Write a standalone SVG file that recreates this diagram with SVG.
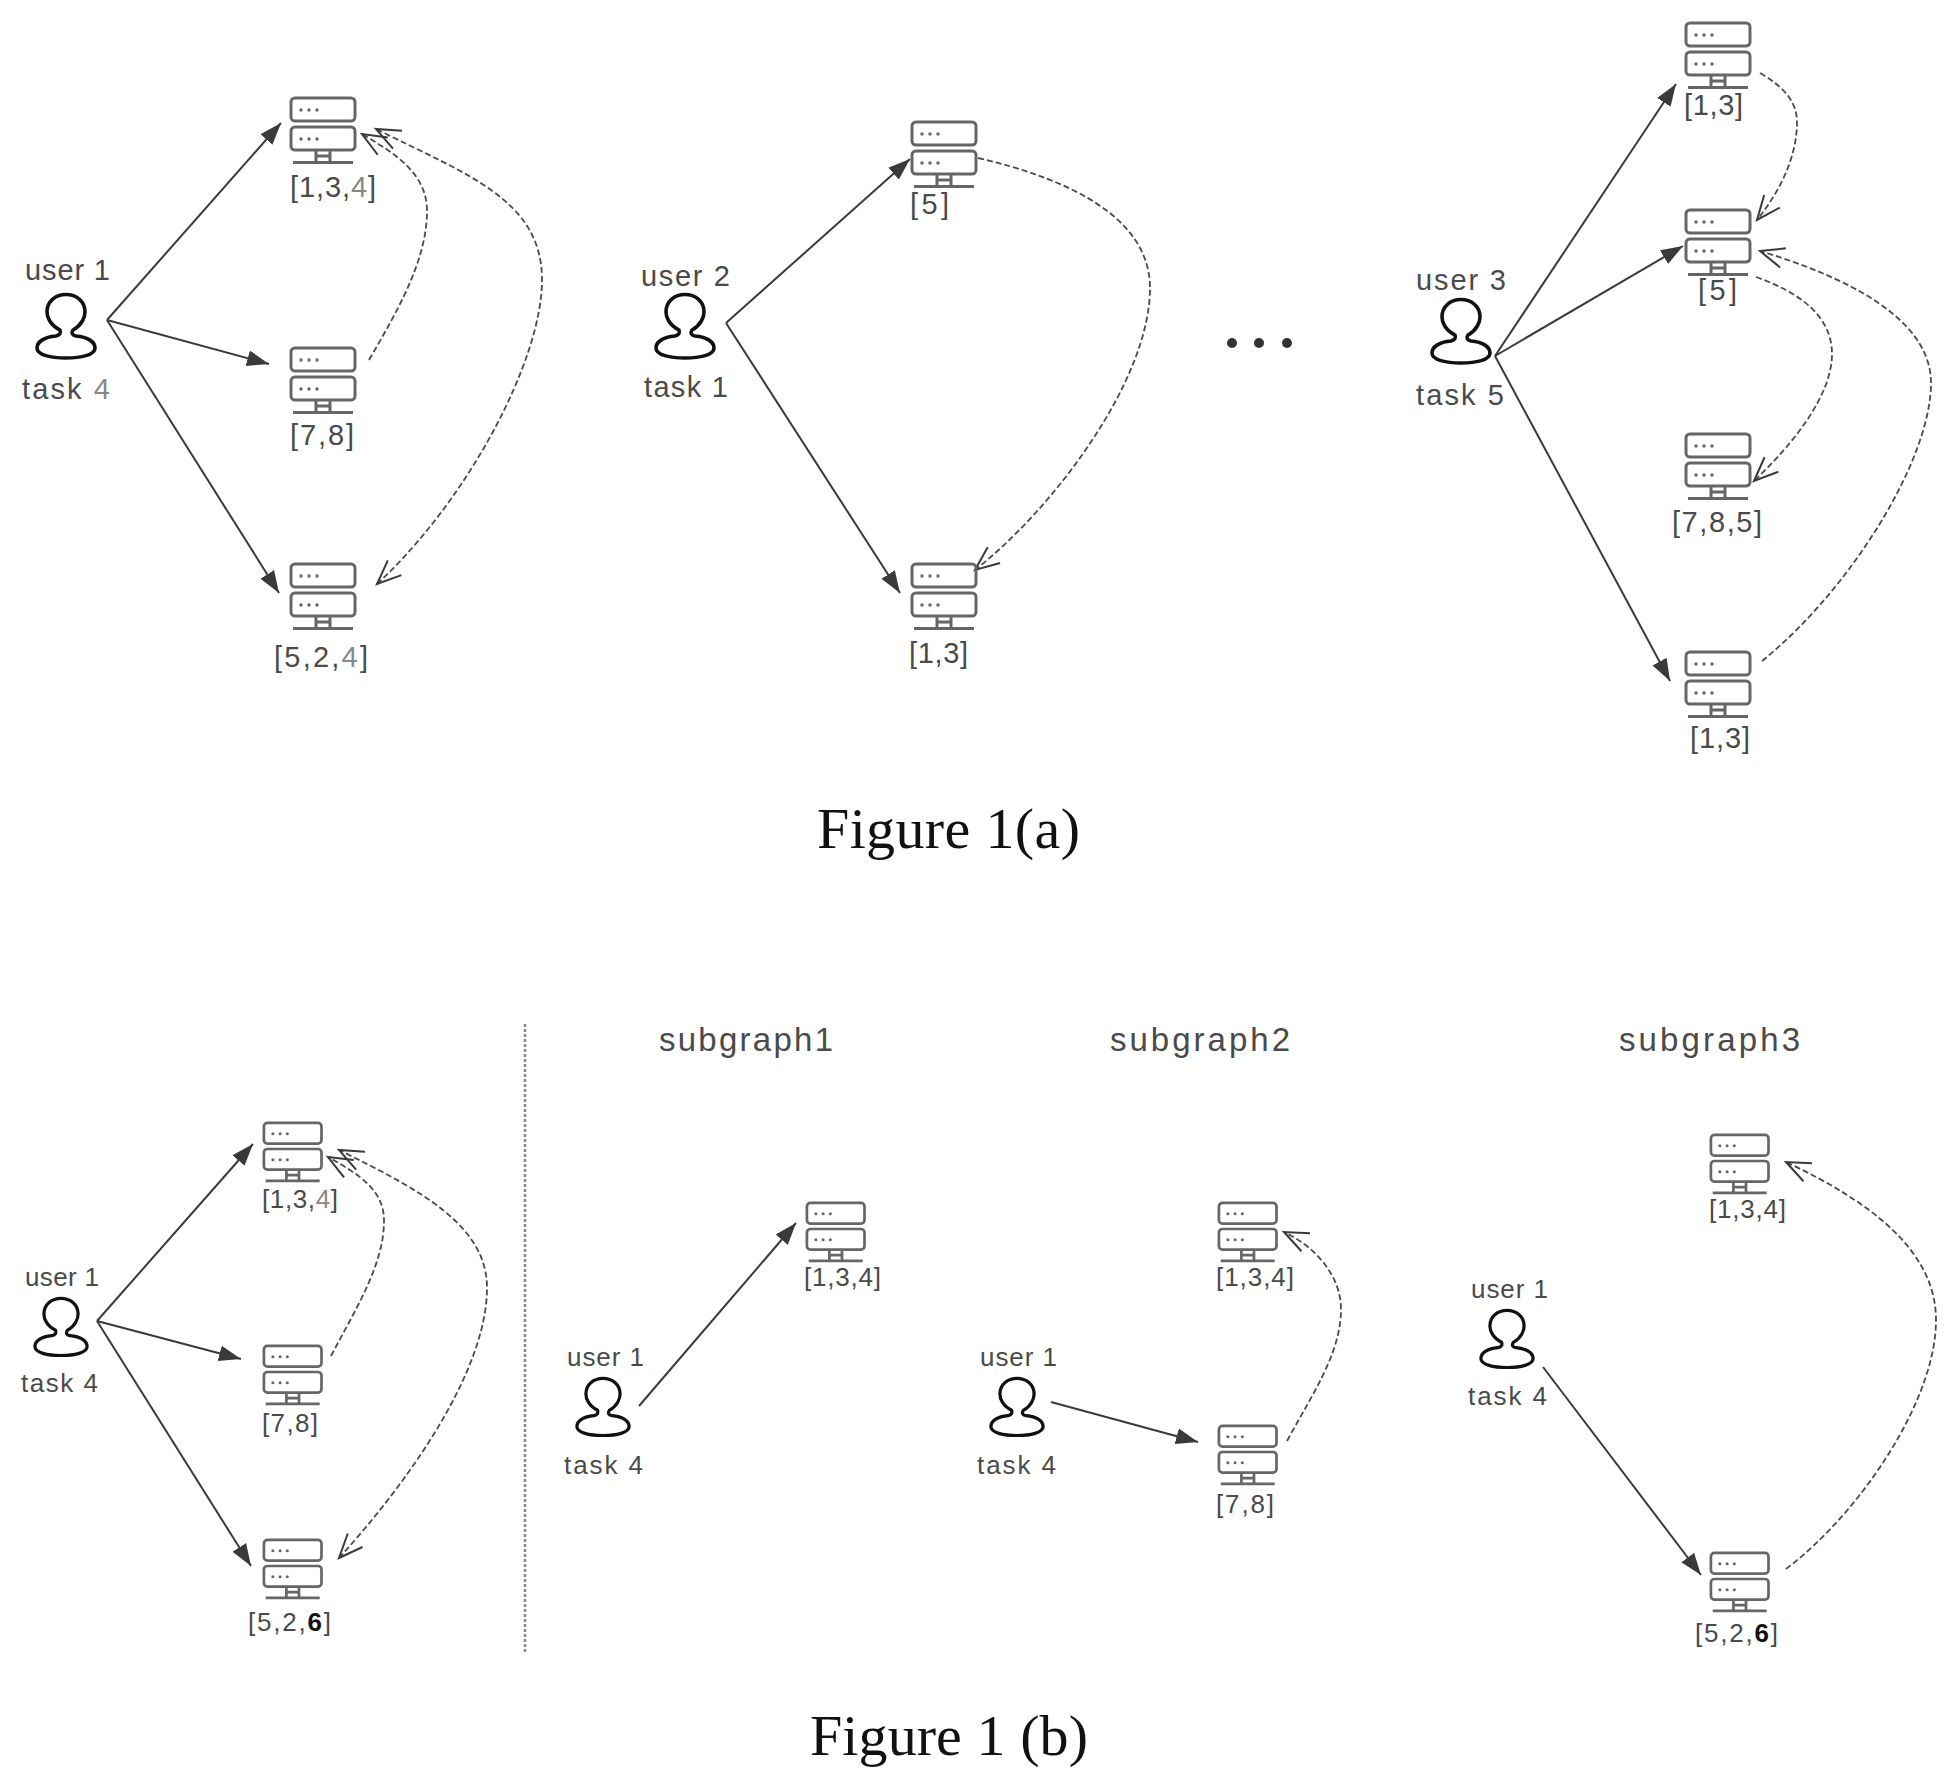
<svg xmlns="http://www.w3.org/2000/svg" width="1956" height="1790" viewBox="0 0 1956 1790">
<style>
text{font-family:"Liberation Sans",Arial,sans-serif;fill:#4a4a4a}
.l{font-size:29px}.s{font-size:26px}.t{font-size:33px}
.cap{font-family:"Liberation Serif","Times New Roman",serif;font-size:58px;fill:#111}
.lt{fill:#888}.b{font-weight:bold;fill:#111}
.sv rect,.sv path{fill:none;stroke:#666;stroke-width:3}
.sv circle{fill:#666;stroke:none}
.pr{fill:none;stroke:#111;stroke-width:3.6}
.a{fill:none;stroke:#3a3a3a;stroke-width:2;marker-end:url(#solid)}
.d{fill:none;stroke:#4a4a4a;stroke-width:1.8;stroke-dasharray:6 3;marker-end:url(#open)}
.dd{marker-start:url(#open)}
</style>
<defs>
<marker id="solid" markerUnits="userSpaceOnUse" markerWidth="24" markerHeight="20" refX="22" refY="10" orient="auto"><path d="M0,2 L22,10 L0,18 Z" fill="#3a3a3a"/></marker>
<marker id="open" markerUnits="userSpaceOnUse" markerWidth="30" markerHeight="30" refX="27" refY="15" orient="auto-start-reverse"><path d="M3,5 L27,15 L3,25" fill="none" stroke="#3a3a3a" stroke-width="2"/></marker>
<g id="server" class="sv">
<rect x="1" y="1" width="64" height="23" rx="4"/>
<rect x="1" y="30" width="64" height="23" rx="4"/>
<circle cx="11" cy="13" r="1.7"/><circle cx="19" cy="13" r="1.7"/><circle cx="27" cy="13" r="1.7"/>
<circle cx="11" cy="42" r="1.7"/><circle cx="19" cy="42" r="1.7"/><circle cx="27" cy="42" r="1.7"/>
<path d="M26,53V65M40,53V65M26,59H40M3,65.500H63"/>
</g>
<path id="person" class="pr" d="M24,37 C14,32 11,24 11,19 C11,8 20,1.500 30,1.500 C40,1.500 49,8 49,19 C49,24 46,32 37,37 C35,40 36,42 40,43 C52,44 59,49 59,55 C59,62 45,65 30,65 C15,65 1,62 1,55 C1,49 8,44 20,43 C24,42 25,40 24,37 Z"/>
</defs>
<rect width="1956" height="1790" fill="#fff"/>

<g id="connectors">
<path class="a" d="M107,320L281,123"/>
<path class="a" d="M107,320L269,364"/>
<path class="a" d="M107,320L279,593"/>
<path class="d" d="M369,360 C398,310 427,260 427,211 C427,175 398,155 362,134"/>
<path class="d dd" d="M377,584 C468,500 542,360 542,280 C542,200 468,175 376,129"/>
<path class="a" d="M726,323L910,159"/>
<path class="a" d="M726,323L900,593"/>
<path class="d" d="M978,158 C1074,180 1150,220 1150,288 C1150,380 1054,508 975,570"/>
<path class="a" d="M1495,356L1676,84"/>
<path class="a" d="M1495,356L1683,246"/>
<path class="a" d="M1495,356L1670,681"/>
<path class="d" d="M1760,73 C1781,85 1797,100 1797,122 C1797,160 1777,195 1757,220"/>
<path class="d" d="M1756,277 C1798,292 1832,315 1832,354 C1832,396 1792,445 1754,481"/>
<path class="d" d="M1762,661 C1850,590 1931,460 1931,383 C1931,320 1850,278 1760,251"/>
<path class="a" d="M97,1321L253,1144"/>
<path class="a" d="M97,1321L241,1359"/>
<path class="a" d="M97,1321L251,1566"/>
<path class="d" d="M331,1356 C355,1310 384,1265 384,1221 C384,1190 360,1175 328,1157"/>
<path class="d dd" d="M339,1558 C410,1480 487,1370 487,1288 C487,1225 420,1190 339,1150"/>
<path class="a" d="M639,1406L796,1223"/>
<path class="a" d="M1051,1402L1198,1442"/>
<path class="d" d="M1287,1441 C1313,1393 1341,1353 1341,1309 C1341,1278 1318,1248 1284,1232"/>
<path class="a" d="M1543,1367L1701,1575"/>
<path class="d" d="M1786,1569 C1861,1512 1936,1400 1936,1320 C1936,1251 1871,1202 1786,1162"/>
</g>

<g id="user1a"><use href="#person" transform="translate(36,293)"/><text class="l" x="25" y="280" textLength="85">user 1</text><text class="l" x="22" y="399" textLength="88">task <tspan class="lt">4</tspan></text></g>
<g id="s1a"><use href="#server" transform="translate(290,97)"/><text class="l" x="290" y="197" textLength="86">[1,3,<tspan class="lt">4</tspan>]</text></g>
<g id="s2a"><use href="#server" transform="translate(290,347)"/><text class="l" x="290" y="445" textLength="64">[7,8]</text></g>
<g id="s3a"><use href="#server" transform="translate(290,563)"/><text class="l" x="274" y="667" textLength="94">[5,2,<tspan class="lt">4</tspan>]</text></g>

<g id="user2a"><use href="#person" transform="translate(655,293)"/><text class="l" x="641" y="286" textLength="89">user 2</text><text class="l" x="644" y="397" textLength="84">task 1</text></g>
<g id="s4a"><use href="#server" transform="translate(911,121)"/><text class="l" x="910" y="214" textLength="39">[5]</text></g>
<g id="s5a"><use href="#server" transform="translate(911,563)"/><text class="l" x="909" y="663" textLength="59">[1,3]</text></g>
<g id="ellipsis" fill="#333"><circle cx="1232" cy="343" r="5"/><circle cx="1259" cy="343" r="5"/><circle cx="1287" cy="343" r="5"/></g>

<g id="user3a"><use href="#person" transform="translate(1431,298)"/><text class="l" x="1416" y="290" textLength="90">user 3</text><text class="l" x="1416" y="405" textLength="88">task 5</text></g>
<g id="s6a"><use href="#server" transform="translate(1685,22)"/><text class="l" x="1684" y="115" textLength="59">[1,3]</text></g>
<g id="s7a"><use href="#server" transform="translate(1685,209)"/><text class="l" x="1698" y="300" textLength="39">[5]</text></g>
<g id="s8a"><use href="#server" transform="translate(1685,433)"/><text class="l" x="1672" y="532" textLength="90">[7,8,5]</text></g>
<g id="s9a"><use href="#server" transform="translate(1685,651)"/><text class="l" x="1690" y="748" textLength="60">[1,3]</text></g>

<text class="cap" x="817" y="848" textLength="263">Figure 1(a)</text>

<g id="user1b"><use href="#person" transform="translate(34,1297) scale(.9)"/><text class="s" x="25" y="1286" textLength="74">user 1</text><text class="s" x="21" y="1392" textLength="77">task 4</text></g>
<g id="s1b"><use href="#server" transform="translate(263,1122) scale(.9)"/><text class="s" x="262" y="1208" textLength="76">[1,3,<tspan class="lt">4</tspan>]</text></g>
<g id="s2b"><use href="#server" transform="translate(263,1345) scale(.9)"/><text class="s" x="262" y="1432" textLength="56">[7,8]</text></g>
<g id="s3b"><use href="#server" transform="translate(263,1539) scale(.9)"/><text class="s" x="248" y="1631" textLength="83">[5,2,<tspan class="b">6</tspan>]</text></g>

<line id="divider" x1="525" y1="1024" x2="525" y2="1653" stroke="#888" stroke-width="2.500" stroke-dasharray="3 2"/>

<text id="t1" class="t" x="659" y="1051" textLength="174">subgraph1</text>
<text id="t2" class="t" x="1110" y="1051" textLength="180">subgraph2</text>
<text id="t3" class="t" x="1619" y="1051" textLength="181">subgraph3</text>

<g id="user1c"><use href="#person" transform="translate(576,1377) scale(.9)"/><text class="s" x="567" y="1366" textLength="77">user 1</text><text class="s" x="564" y="1474" textLength="79">task 4</text></g>
<g id="s1c"><use href="#server" transform="translate(806,1202) scale(.9)"/><text class="s" x="804" y="1286" textLength="77">[1,3,4]</text></g>

<g id="user1d"><use href="#person" transform="translate(990,1377) scale(.9)"/><text class="s" x="980" y="1366" textLength="77">user 1</text><text class="s" x="977" y="1474" textLength="79">task 4</text></g>
<g id="s1d"><use href="#server" transform="translate(1218,1202) scale(.9)"/><text class="s" x="1216" y="1286" textLength="78">[1,3,4]</text></g>
<g id="s2d"><use href="#server" transform="translate(1218,1425) scale(.9)"/><text class="s" x="1216" y="1513" textLength="58">[7,8]</text></g>

<g id="user1e"><use href="#person" transform="translate(1480,1309) scale(.9)"/><text class="s" x="1471" y="1298" textLength="77">user 1</text><text class="s" x="1468" y="1405" textLength="79">task 4</text></g>
<g id="s1e"><use href="#server" transform="translate(1710,1134) scale(.9)"/><text class="s" x="1709" y="1218" textLength="77">[1,3,4]</text></g>
<g id="s3e"><use href="#server" transform="translate(1710,1552) scale(.9)"/><text class="s" x="1695" y="1642" textLength="83">[5,2,<tspan class="b">6</tspan>]</text></g>

<text class="cap" x="810" y="1755" textLength="278">Figure 1 (b)</text>
</svg>
